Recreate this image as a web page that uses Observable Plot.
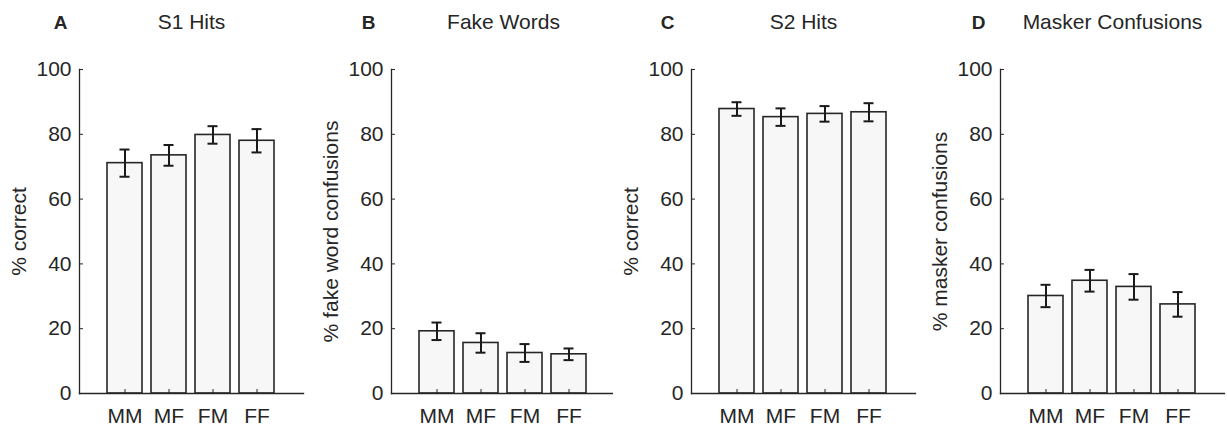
<!DOCTYPE html>
<html>
<head>
<meta charset="utf-8">
<script src="https://cdn.jsdelivr.net/npm/d3@7"></script>
<script src="https://cdn.jsdelivr.net/npm/@observablehq/plot@0.6"></script>
<style>
  html, body { margin: 0; padding: 0; background: white; overflow: hidden; }
  #wrap { position: relative; width: 1227px; height: 431px; }
  #wrap svg { position: absolute; top: 0; }
</style>
</head>
<body>
<div id="wrap"></div>
<script>
const categories = ["MM", "MF", "FM", "FF"];
const yTicks = [0, 20, 40, 60, 80, 100];

const panelLetters = ["A", "B", "C", "D"];
const panelTitles = ["S1 Hits", "Fake Words", "S2 Hits", "Masker Confusions"];
const yLabels = ["% correct", "% fake word confusions", "% correct", "% masker confusions"];

const s1Hits = [71.1, 73.5, 79.8, 78.0];
const s1HitsErr = [4.2, 3.2, 2.7, 3.6];
const fakeWords = [19.2, 15.6, 12.5, 12.1];
const fakeWordsErr = [2.7, 3.0, 2.75, 1.8];
const s2Hits = [87.8, 85.3, 86.3, 86.8];
const s2HitsErr = [2.1, 2.7, 2.4, 2.8];
const maskerConf = [30.1, 34.8, 32.9, 27.5];
const maskerConfErr = [3.45, 3.35, 3.95, 3.8];

const seriesValues = [s1Hits, fakeWords, s2Hits, maskerConf];
const seriesErrors = [s1HitsErr, fakeWordsErr, s2HitsErr, maskerConfErr];

const axisLefts = [79, 391, 691, 1000];
const letterOffsets = [-19, -23, -24, -22];
const marginLeft = 78;
const ink = "#262626";
const font = "'Liberation Sans', Arial, Helvetica, sans-serif";

const wrap = document.getElementById("wrap");

seriesValues.forEach((vals, i) => {
  const data = categories.map((c, j) => ({cat: c, value: vals[j], err: seriesErrors[i][j]}));
  const svg = Plot.plot({
    width: 306,
    height: 431,
    marginLeft: marginLeft,
    marginRight: 4,
    marginTop: 69,
    marginBottom: 38,
    x: {domain: categories, paddingInner: 0.2, paddingOuter: 0.6},
    y: {domain: [0, 100]},
    style: {fontFamily: font, fontSize: "21px", color: ink, background: "white", overflow: "visible"},
    marks: [
      Plot.barY(data, {x: "cat", y: "value", fill: "#f7f7f7", stroke: ink, strokeWidth: 1.6}),
      Plot.ruleX(data, {x: "cat", y1: d => d.value - d.err, y2: d => d.value + d.err, stroke: "#1a1a1a", strokeWidth: 2}),
      Plot.tickY(data, {x: "cat", y: d => d.value + d.err, insetLeft: 12.5, insetRight: 12.5, stroke: "#1a1a1a", strokeWidth: 2}),
      Plot.tickY(data, {x: "cat", y: d => d.value - d.err, insetLeft: 12.5, insetRight: 12.5, stroke: "#1a1a1a", strokeWidth: 2}),
      Plot.frame({anchor: "left", stroke: ink, strokeWidth: 1.3}),
      Plot.frame({anchor: "bottom", stroke: ink, strokeWidth: 1.3}),
      Plot.axisY({ticks: yTicks, tickSize: -4, tickPadding: 12, label: null, stroke: ink, fill: ink, fontSize: 21}),
      Plot.axisX({tickSize: -4, tickPadding: 19, label: null, stroke: ink, fill: ink, fontSize: 21}),
      Plot.text([yLabels[i]], {frameAnchor: "left", textAnchor: "middle", lineAnchor: "middle", rotate: -90, dx: -60, fontSize: 21, fill: ink}),
      Plot.text([panelTitles[i]], {frameAnchor: "top", textAnchor: "middle", lineAnchor: "middle", dy: -47, fontSize: 21, fill: ink}),
      Plot.text([panelLetters[i]], {frameAnchor: "top-left", textAnchor: "middle", lineAnchor: "middle", dx: letterOffsets[i], dy: -47, fontSize: 19, fontWeight: "bold", fill: ink})
    ]
  });
  svg.style.left = (axisLefts[i] - marginLeft) + "px";
  wrap.appendChild(svg);
});
</script>
</body>
</html>
